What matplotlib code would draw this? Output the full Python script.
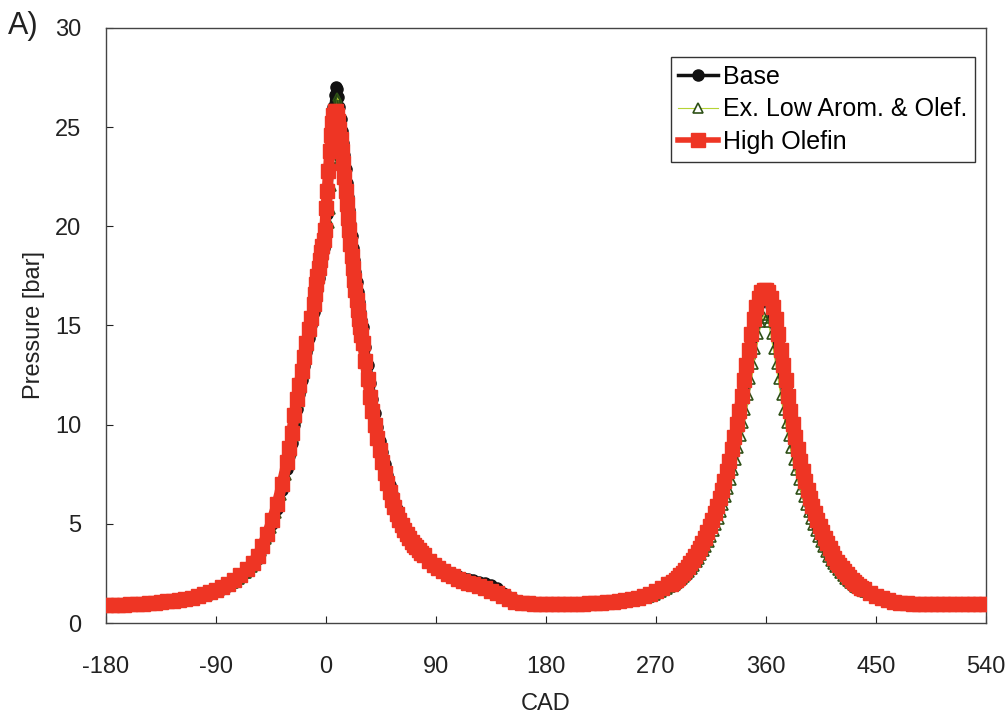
import numpy as np
import matplotlib
matplotlib.use("Agg")
import matplotlib.pyplot as plt
from matplotlib.lines import Line2D

plt.rcParams['font.family'] = ['Liberation Sans', 'DejaVu Sans']
plt.rcParams['axes.unicode_minus'] = False

# Crank-angle sampling grid (denser where the pressure changes fast)
cad = np.concatenate([
    np.arange(-180, -59, 5), np.arange(-56, -31, 4), np.arange(-30, -11, 2),
    np.arange(-10, 31, 1), np.arange(32, 81, 2), np.arange(84, 121, 4),
    np.arange(125, 281, 5), np.arange(282, 441, 2), np.arange(445, 541, 5),
])

# High Olefin pressure [bar]
olefin_p = np.array([
    # -180 .. -60
    0.90, 0.90, 0.91, 0.92, 0.94, 0.96, 0.98, 1.00, 1.03, 1.06, 1.09, 1.13, 1.17,
    1.22, 1.28, 1.36, 1.45, 1.55, 1.66, 1.80, 1.96, 2.16, 2.40, 2.70, 3.05,
    # -56 .. -32
    3.40, 3.90, 4.50, 5.20, 6.00, 7.00, 8.10,
    # -30 .. -12
    8.80, 9.60, 10.50, 11.30, 12.00, 12.70, 13.40, 14.10, 14.80, 15.40,
    # -10 .. 30
    16.1, 16.6, 17.1, 17.5, 17.9, 18.3, 18.7, 19.0, 19.3, 19.8,
    20.9, 21.8, 22.8, 23.8, 24.6, 25.2, 25.6, 25.8, 25.8, 25.6,
    25.3, 24.9, 24.4, 23.8, 23.2, 22.5, 21.8, 21.1, 20.4, 19.8,
    19.1, 18.5, 17.9, 17.3, 16.8, 16.3, 15.8, 15.35, 14.9, 14.5, 14.1,
    # 32 .. 80
    13.2, 12.3, 11.4, 10.7, 10.0, 9.35, 8.7, 8.1, 7.55, 7.05, 6.6, 6.2, 5.85,
    5.5, 5.2, 4.95, 4.7, 4.48, 4.28, 4.1, 3.95, 3.82, 3.68, 3.55, 3.42,
    # 84 .. 120
    3.15, 2.93, 2.76, 2.60, 2.47, 2.35, 2.24, 2.13, 2.03, 1.95,
    # 125 .. 280
    1.86, 1.76, 1.63, 1.50, 1.35, 1.20, 1.08, 1.02, 0.99, 0.97, 0.96, 0.96,
    0.96, 0.96, 0.96, 0.97, 0.97, 0.98, 0.99, 1.00, 1.02, 1.04, 1.07, 1.10,
    1.15, 1.21, 1.28, 1.37, 1.48, 1.61, 1.77, 1.95,
    # 282 .. 440
    1.97, 2.07, 2.17, 2.28, 2.40, 2.53, 2.67, 2.83, 3.00, 3.17,
    3.36, 3.57, 3.80, 4.03, 4.30, 4.58, 4.88, 5.20, 5.55, 5.90,
    6.30, 6.72, 7.17, 7.65, 8.17, 8.75, 9.37, 10.02, 10.70, 11.45,
    12.25, 13.03, 13.78, 14.58, 15.35, 15.95, 16.40, 16.67, 16.80, 16.80,
    16.67, 16.40, 15.95, 15.35, 14.58, 13.78, 13.03, 12.25, 11.45, 10.70,
    10.02, 9.37, 8.75, 8.17, 7.65, 7.17, 6.72, 6.30, 5.90, 5.55,
    5.20, 4.88, 4.58, 4.30, 4.03, 3.78, 3.53, 3.30, 3.09, 2.92,
    2.78, 2.60, 2.45, 2.30, 2.17, 2.05, 1.95, 1.86, 1.78, 1.70,
    # 445 .. 540
    1.52, 1.36, 1.24, 1.15, 1.08, 1.03, 1.00, 0.98, 0.97, 0.96,
    0.96, 0.96, 0.96, 0.96, 0.96, 0.96, 0.96, 0.96, 0.96, 0.96,
])

# Ex. Low Arom. & Olef. pressure [bar]
low_arom_p = np.array([
    0.84, 0.84, 0.85, 0.86, 0.87, 0.89, 0.91, 0.93, 0.95, 0.98, 1.01, 1.04, 1.08,
    1.13, 1.18, 1.25, 1.33, 1.42, 1.52, 1.64, 1.79, 1.97, 2.18, 2.45, 2.77,
    3.20, 3.60, 4.20, 4.75, 5.50, 6.40, 7.40,
    7.95, 8.60, 9.40, 10.30, 11.10, 11.80, 12.50, 13.20, 13.90, 14.60,
    15.25, 15.7, 16.1, 16.5, 16.9, 17.3, 17.7, 18.1, 18.5, 18.8,
    19.1, 19.4, 19.7, 20.1, 20.8, 22.0, 23.4, 24.7, 25.8, 26.5,
    26.4, 26.0, 25.5, 25.0, 24.6, 24.1, 23.5, 22.85, 22.15, 21.45,
    20.75, 20.1, 19.45, 18.8, 18.2, 17.6, 17.05, 16.55, 16.05, 15.58, 15.13,
    14.3, 13.4, 12.5, 11.6, 10.9, 10.2, 9.5, 8.9, 8.25, 7.7, 7.2, 6.75, 6.35,
    6.0, 5.6, 5.3, 5.0, 4.75, 4.55, 4.3, 4.12, 3.98, 3.83, 3.7, 3.57,
    3.30, 3.07, 2.88, 2.72, 2.58, 2.46, 2.36, 2.27, 2.20, 2.14,
    2.06, 1.97, 1.86, 1.70, 1.50, 1.30, 1.14, 1.04, 0.99, 0.97, 0.96, 0.96,
    0.95, 0.95, 0.95, 0.95, 0.95, 0.95, 0.95, 0.96, 0.97, 0.97, 0.99, 1.01,
    1.04, 1.08, 1.13, 1.19, 1.27, 1.37, 1.50, 1.67,
    1.74, 1.81, 1.89, 1.97, 2.07, 2.17, 2.28, 2.40, 2.53, 2.67,
    2.83, 3.00, 3.17, 3.36, 3.57, 3.80, 4.03, 4.30, 4.58, 4.88,
    5.20, 5.55, 5.90, 6.30, 6.72, 7.17, 7.65, 8.17, 8.75, 9.37,
    10.02, 10.70, 11.45, 12.25, 13.03, 13.78, 14.50, 15.10, 15.50, 15.35,
    15.10, 14.50, 13.78, 13.03, 12.25, 11.45, 10.70, 10.02, 9.37, 8.75,
    8.17, 7.65, 7.17, 6.72, 6.30, 5.90, 5.55, 5.20, 4.88, 4.58,
    4.30, 4.03, 3.78, 3.53, 3.30, 3.09, 2.92, 2.78, 2.60, 2.45,
    2.30, 2.17, 2.05, 1.95, 1.86, 1.78, 1.70, 1.63, 1.57, 1.52,
    1.36, 1.24, 1.15, 1.08, 1.03, 1.00, 0.98, 0.97, 0.96, 0.95,
    0.95, 0.95, 0.95, 0.95, 0.95, 0.95, 0.95, 0.95, 0.95, 0.95,
])

# Base fuel pressure [bar]
base_p = np.array([
    0.87, 0.87, 0.88, 0.89, 0.90, 0.92, 0.94, 0.96, 0.99, 1.02, 1.05, 1.09, 1.13,
    1.18, 1.23, 1.30, 1.39, 1.48, 1.59, 1.72, 1.88, 2.06, 2.29, 2.57, 2.91,
    3.30, 3.75, 4.35, 5.00, 5.75, 6.70, 7.75,
    8.40, 9.10, 10.00, 10.80, 11.55, 12.25, 12.95, 13.65, 14.35, 15.00,
    15.7, 16.15, 16.6, 17.0, 17.4, 17.8, 18.2, 18.6, 18.9, 19.3,
    19.8, 20.6, 21.8, 23.0, 24.2, 25.2, 26.0, 26.6, 27.0, 26.9,
    26.5, 26.0, 25.4, 24.8, 24.2, 23.6, 22.9, 22.2, 21.5, 20.8,
    20.1, 19.5, 18.9, 18.3, 17.7, 17.2, 16.7, 16.2, 15.7, 15.3, 14.9,
    13.9, 13.0, 12.1, 11.3, 10.6, 9.9, 9.2, 8.6, 8.0, 7.45, 6.95, 6.5, 6.1,
    5.75, 5.4, 5.1, 4.85, 4.6, 4.4, 4.2, 4.05, 3.9, 3.76, 3.63, 3.5,
    3.25, 3.03, 2.86, 2.70, 2.57, 2.46, 2.37, 2.29, 2.22, 2.16,
    2.08, 2.00, 1.90, 1.74, 1.53, 1.32, 1.15, 1.05, 1.00, 0.98, 0.97, 0.96,
    0.96, 0.96, 0.96, 0.96, 0.96, 0.96, 0.97, 0.98, 0.99, 1.01, 1.04, 1.07,
    1.11, 1.16, 1.23, 1.31, 1.41, 1.53, 1.68, 1.85,
    1.93, 2.02, 2.12, 2.23, 2.34, 2.47, 2.60, 2.76, 2.92, 3.09,
    3.27, 3.47, 3.69, 3.91, 4.17, 4.44, 4.73, 5.04, 5.38, 5.72,
    6.10, 6.51, 6.94, 7.41, 7.92, 8.48, 9.08, 9.72, 10.38, 11.12,
    11.90, 12.68, 13.43, 14.22, 14.98, 15.60, 16.06, 16.35, 16.50, 16.48,
    16.30, 16.00, 15.52, 14.90, 14.12, 13.32, 12.56, 11.78, 10.99, 10.25,
    9.58, 8.94, 8.34, 7.78, 7.27, 6.80, 6.37, 5.96, 5.58, 5.24,
    4.91, 4.60, 4.31, 4.04, 3.78, 3.55, 3.32, 3.11, 2.91, 2.75,
    2.62, 2.45, 2.31, 2.17, 2.05, 1.94, 1.85, 1.77, 1.69, 1.62,
    1.45, 1.31, 1.20, 1.12, 1.06, 1.02, 0.99, 0.97, 0.96, 0.96,
    0.95, 0.95, 0.95, 0.95, 0.95, 0.95, 0.95, 0.95, 0.95, 0.95,
])

series_labels = ["Base", "Ex. Low Arom. & Olef.", "High Olefin"]
x_ticks = [-180, -90, 0, 90, 180, 270, 360, 450, 540]
y_ticks = [0, 5, 10, 15, 20, 25, 30]

RED = '#ee3524'
BLACK = '#111111'
TRI_EDGE = '#2d5016'
TRI_LINE = '#b5d334'

fig = plt.figure(figsize=(10.08, 7.17), dpi=100)
ax = fig.add_axes([0.1052, 0.1311, 0.8730, 0.8299])

# Dense measured traces: thick lines so the marker trails read as solid bands
ax.plot(cad, base_p, color=BLACK, lw=6, marker='o', ms=8,
        mfc=BLACK, mec=BLACK, solid_joinstyle='round', zorder=2)
ax.plot(cad, low_arom_p, color=TRI_LINE, lw=0.8, marker='^', ms=6,
        mfc='none', mec=TRI_EDGE, mew=1.2, zorder=3)
ax.plot(cad, olefin_p, color=RED, lw=8, marker='s', ms=10,
        mfc=RED, mec=RED, solid_joinstyle='round', zorder=4)

ax.set_xlim(-180, 540)
ax.set_ylim(0, 30)
ax.set_xticks(x_ticks)
ax.set_yticks(y_ticks)
ax.tick_params(axis='both', direction='in', length=5, width=0.8,
               labelsize=17, colors='#222222')
ax.tick_params(axis='x', pad=24)
ax.tick_params(axis='y', pad=18)
for sp in ax.spines.values():
    sp.set_color('#444444')
    sp.set_linewidth(1.0)

ax.set_xlabel('CAD', fontsize=17, color='#222222')
ax.set_ylabel('Pressure [bar]', fontsize=17, color='#222222')
ax.xaxis.set_label_coords(0.5, -0.118)
ax.xaxis.label.set_va('top')
ax.yaxis.set_label_coords(-0.069, 0.5)

handles = [
    Line2D([], [], color=BLACK, lw=2.5, marker='o', ms=8, mfc=BLACK, mec=BLACK),
    Line2D([], [], color=TRI_LINE, lw=0.8, marker='^', ms=7, mfc='white',
           mec=TRI_EDGE, mew=1.2),
    Line2D([], [], color=RED, lw=4, marker='s', ms=10, mfc=RED, mec=RED),
]
leg = ax.legend(handles, series_labels, loc='upper right',
                bbox_to_anchor=(0.9875, 0.951), borderaxespad=0, fontsize=18,
                fancybox=False, edgecolor='#333333', framealpha=1,
                handlelength=1.6, handletextpad=0.2, labelspacing=0.35,
                borderpad=0.3)
leg.get_frame().set_linewidth(1.0)

fig.text(0.008, 0.985, 'A)', fontsize=22, va='top', ha='left', color='#222222')

fig.savefig('out.png', dpi=100)
